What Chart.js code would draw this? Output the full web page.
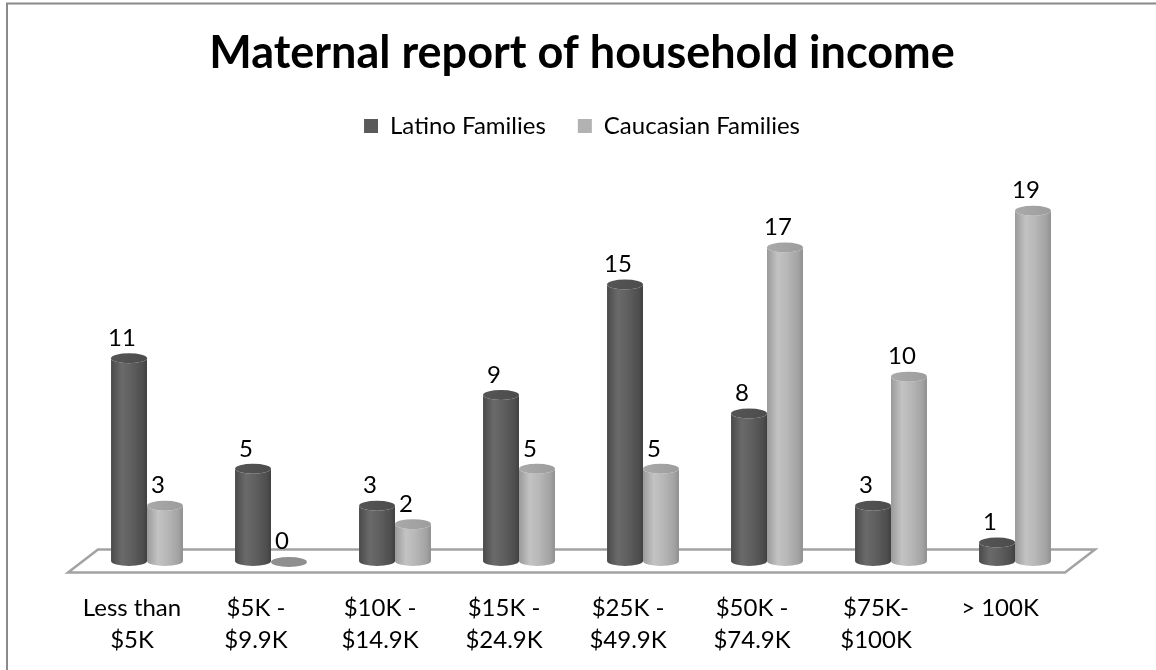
<!DOCTYPE html>
<html>
<head>
<meta charset="utf-8">
<title>Maternal report of household income</title>
<script src="https://cdn.jsdelivr.net/npm/chart.js@4.4.1/dist/chart.umd.min.js"></script>
<style>
  html, body { margin: 0; padding: 0; background: #ffffff; overflow: hidden; }
  #wrap { width: 1156px; height: 670px; position: relative; }
  canvas { display: block; }
</style>
</head>
<body>
<div id="wrap"><canvas id="chart" width="1156" height="670"></canvas></div>
<script>
// Income brackets (two-line tick labels)
const categories = [
  ["Less than", "$5K"],
  ["$5K -", "$9.9K"],
  ["$10K -", "$14.9K"],
  ["$15K -", "$24.9K"],
  ["$25K -", "$49.9K"],
  ["$50K -", "$74.9K"],
  ["$75K-", "$100K"],
  ["> 100K"]
];
// Number of families in each bracket
const latinoFamilies    = [11, 5, 3, 9, 15, 8, 3, 1];
const caucasianFamilies = [3, 0, 2, 5, 5, 17, 10, 19];
const seriesNames = ["Latino Families", "Caucasian Families"];

const FONT = 'Lato, "Open Sans", "DejaVu Sans", sans-serif';

// Shading for the cylinder bodies, caps and flat (zero) discs
const palettes = [
  {
    legend: "#5a5a5a",
    body: [[0, "#4a4a4a"], [0.3, "#6a6a6a"], [0.55, "#606060"], [0.88, "#4e4e4e"], [1, "#404040"]],
    cap: ["#555555", "#4c4c4c"],
    flat: "#6a6a6a"
  },
  {
    legend: "#b2b2b2",
    body: [[0, "#9a9a9a"], [0.3, "#c3c3c3"], [0.55, "#b8b8b8"], [0.88, "#a2a2a2"], [1, "#8e8e8e"]],
    cap: ["#a9a9a9", "#9d9d9d"],
    flat: "#8f8f8f"
  }
];

const DEPTH_X = 30;      // floor depth, horizontal
const DEPTH_Y = 23;      // floor depth, vertical
const BAR_SHIFT = 15;    // bars stand in the middle of the floor depth
const LABEL_SHIFT = 8;   // value labels sit slightly in front of the bars
const CAP_RY = 5;        // vertical radius of the elliptical caps

function drawCylinder(ctx, cx, topY, baseY, r, ry, pal) {
  const left = cx - r, right = cx + r;
  if (baseY - topY < 0.5) {
    ctx.beginPath();
    ctx.ellipse(cx, baseY + 1, r, ry, 0, 0, Math.PI * 2);
    ctx.fillStyle = pal.flat;
    ctx.fill();
    return;
  }
  const g = ctx.createLinearGradient(left, 0, right, 0);
  pal.body.forEach(([o, c]) => g.addColorStop(o, c));
  ctx.beginPath();
  ctx.moveTo(left, topY);
  ctx.lineTo(left, baseY);
  ctx.ellipse(cx, baseY, r, ry, 0, Math.PI, 0, true);
  ctx.lineTo(right, topY);
  ctx.ellipse(cx, topY, r, ry, 0, 0, Math.PI, false);
  ctx.closePath();
  ctx.fillStyle = g;
  ctx.fill();

  const cg = ctx.createLinearGradient(left, 0, right, 0);
  cg.addColorStop(0, pal.cap[0]);
  cg.addColorStop(1, pal.cap[1]);
  ctx.beginPath();
  ctx.ellipse(cx, topY, r, ry, 0, 0, Math.PI * 2);
  ctx.fillStyle = cg;
  ctx.fill();
}

const cylinderPlugin = {
  id: "cylinders",
  beforeDraw(chart) {
    const ctx = chart.ctx;
    ctx.save();
    ctx.fillStyle = "#ffffff";
    ctx.fillRect(0, 0, chart.width, chart.height);
    // outer frame of the chart object
    ctx.strokeStyle = "#8a8a8a";
    ctx.lineWidth = 2;
    ctx.beginPath();
    ctx.moveTo(7, chart.height + 2);
    ctx.lineTo(7, 3.5);
    ctx.lineTo(chart.width + 2, 3.5);
    ctx.stroke();
    ctx.restore();
  },
  beforeDatasetsDraw(chart) {
    // floor of the 3-D plot
    const ctx = chart.ctx;
    const area = chart.chartArea;
    const y0 = chart.scales.y.getPixelForValue(0);
    const fy = y0 + DEPTH_Y / 2, by = y0 - DEPTH_Y / 2;
    const fl = area.left - 2, fr = area.right + 3;
    ctx.save();
    ctx.strokeStyle = "#a3a3a3";
    ctx.lineWidth = 2.5;
    ctx.beginPath();
    ctx.moveTo(fl, fy);
    ctx.lineTo(fr, fy);
    ctx.lineTo(fr + DEPTH_X, by);
    ctx.lineTo(fl + DEPTH_X, by);
    ctx.closePath();
    ctx.stroke();
    ctx.restore();
  },
  beforeDatasetDraw() {
    return false; // bars are drawn as cylinders below
  },
  afterDatasetsDraw(chart) {
    const ctx = chart.ctx;
    ctx.save();
    chart.data.datasets.forEach((ds, di) => {
      const meta = chart.getDatasetMeta(di);
      meta.data.forEach((bar) => {
        drawCylinder(ctx, bar.x + BAR_SHIFT, bar.y, bar.base, bar.width / 2, CAP_RY, palettes[di]);
      });
    });
    // value labels
    ctx.fillStyle = "#000000";
    ctx.font = "24px " + FONT;
    ctx.textAlign = "center";
    ctx.textBaseline = "middle";
    chart.data.datasets.forEach((ds, di) => {
      const meta = chart.getDatasetMeta(di);
      meta.data.forEach((bar, i) => {
        ctx.fillText(String(ds.data[i]), bar.x + LABEL_SHIFT, bar.y - 20);
      });
    });
    ctx.restore();
  }
};

const hiddenAxis = (pos, w) => ({
  position: pos,
  display: true,
  grid: { display: false },
  border: { display: false },
  ticks: { display: false },
  afterFit(s) { s.width = w; }
});

new Chart(document.getElementById("chart"), {
  type: "bar",
  data: {
    labels: categories,
    datasets: [
      { label: seriesNames[0], data: latinoFamilies, backgroundColor: palettes[0].legend, borderWidth: 0 },
      { label: seriesNames[1], data: caucasianFamilies, backgroundColor: palettes[1].legend, borderWidth: 0 }
    ]
  },
  options: {
    responsive: false,
    animation: false,
    devicePixelRatio: 1,
    layout: { padding: { left: 8, right: 0, top: 0, bottom: 0 } },
    datasets: { bar: { categoryPercentage: 0.58, barPercentage: 1.0 } },
    plugins: {
      title: {
        display: true,
        text: "Maternal report of household income",
        color: "#000000",
        font: { family: FONT, size: 45, weight: "bold", lineHeight: 1.2 },
        padding: { top: 26, bottom: 2 }
      },
      legend: {
        display: true,
        position: "top",
        labels: {
          color: "#000000",
          font: { family: FONT, size: 24 },
          boxWidth: 14,
          boxHeight: 14,
          padding: 32
        }
      },
      tooltip: { enabled: false }
    },
    scales: {
      x: {
        grid: { display: false },
        border: { display: false },
        ticks: {
          color: "#000000",
          font: { family: FONT, size: 24, lineHeight: 1.3 },
          padding: 24,
          maxRotation: 0,
          autoSkip: false
        },
        afterFit(s) { s.height = 109; }
      },
      y: Object.assign(hiddenAxis("left", 62), { min: 0, max: 22.4 }),
      yRight: hiddenAxis("right", 94)
    }
  },
  plugins: [cylinderPlugin]
});
</script>
</body>
</html>
